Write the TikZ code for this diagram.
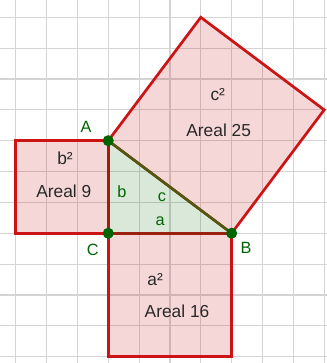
\documentclass[tikz,border=0pt]{standalone}
\usepackage{fontspec}
\setmainfont{Liberation Sans}
\definecolor{gridgray}{RGB}{212,212,212}
\definecolor{sqred}{RGB}{204,20,20}
\definecolor{legred}{RGB}{155,32,16}
\definecolor{hypgreen}{RGB}{72,92,20}
\definecolor{ptgreen}{RGB}{0,100,0}
\definecolor{txtgray}{RGB}{40,40,40}
\begin{document}
\begin{tikzpicture}[
  gridline/.style={draw=gridgray, line width=1.1pt},
  square/.style={draw=sqred, fill=sqred, fill opacity=0.17, line width=2.5pt, line join=miter},
  tri/.style={fill=ptgreen, fill opacity=0.15},
  leg/.style={draw=legred, line width=2.5pt},
  hyp/.style={draw=hypgreen, line width=2.2pt},
  pt/.style={fill=ptgreen, draw=none},
  vlabel/.style={text=ptgreen, font=\fontsize{15}{18}\selectfont, inner sep=0pt},
  slabel/.style={text=ptgreen, font=\fontsize{15}{18}\selectfont, inner sep=0pt},
  alabel/.style={text=txtgray, font=\fontsize{16}{19}\selectfont, inner sep=0pt}
]
\useasboundingbox (-3.509,-4.206) rectangle (7.09,7.561);
\draw[gridline] (-3.509,-4.206) grid (7.09,7.561);

\coordinate (C) at (0,0);
\coordinate (A) at (0,3);
\coordinate (B) at (4,0);
\coordinate (B1) at (-3,3);
\coordinate (B2) at (-3,0);
\coordinate (A1) at (4,-4);
\coordinate (A2) at (0,-4);
\coordinate (C1) at (7,4);
\coordinate (C2) at (3,7);

\path[square] (C) -- (A) -- (B1) -- (B2) -- cycle;
\path[square] (C) -- (B) -- (A1) -- (A2) -- cycle;
\path[square] (A) -- (B) -- (C1) -- (C2) -- cycle;

\path[tri] (A) -- (B) -- (C) -- cycle;
\draw[leg] (A) -- (C) -- (B);
\draw[hyp] (A) -- (B);

\fill[pt] (A) circle (0.18);
\fill[pt] (B) circle (0.18);
\fill[pt] (C) circle (0.18);

\node[vlabel] (lA) at (-0.72,3.45) {A};
\node[vlabel] (lC) at (-0.50,-0.55) {C};
\node[vlabel] (lB) at (4.47,-0.48) {B};

\node[slabel] (lb) at (0.44,1.34) {b};
\node[slabel] (lc) at (1.74,1.18) {c};
\node[slabel] (la) at (1.68,0.38) {a};

\node[alabel] (sb) at (-1.40,2.44) {b²};
\node[alabel] (tb) at (-1.44,1.37) {Areal 9};
\node[alabel] (sc) at (3.55,4.48) {c²};
\node[alabel] (tc) at (3.58,3.33) {Areal 25};
\node[alabel] (sa) at (1.52,-1.49) {a²};
\node[alabel] (ta) at (2.23,-2.53) {Areal 16};
\end{tikzpicture}
\end{document}
